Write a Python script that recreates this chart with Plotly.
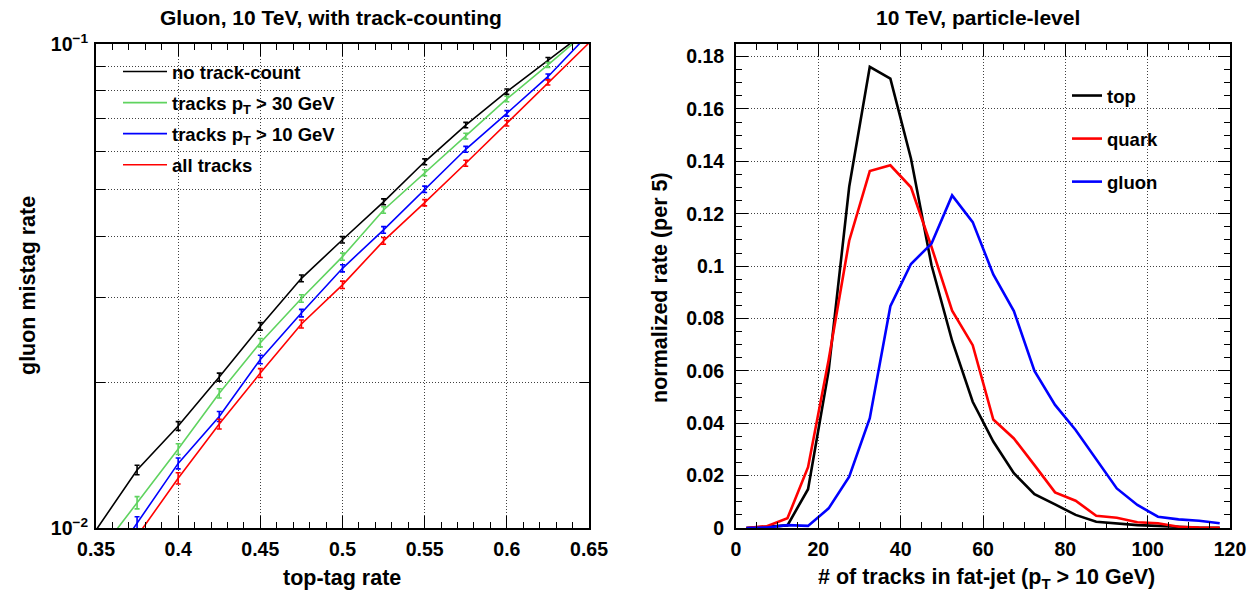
import plotly.graph_objects as go

# ---------------- Left panel data: gluon mistag vs top-tag rate ----------------
tag_rate = [0.35, 0.375, 0.4, 0.425, 0.45, 0.475, 0.5, 0.525, 0.55, 0.575, 0.6, 0.625, 0.65]

mistag_none = [0.0099, 0.01318, 0.01625, 0.0205, 0.0261, 0.0328, 0.0394, 0.0472, 0.0571, 0.0680, 0.0797, 0.0927, 0.1073]
err_none = [None, 0.0003, 0.00034, 0.00039, 0.00047, 0.00052, 0.00059, 0.00066, 0.0008, 0.00088, 0.001, 0.0011, None]

mistag_pt30 = [0.00873, 0.01128, 0.01456, 0.01898, 0.02415, 0.0298, 0.03636, 0.0454, 0.0542, 0.0645, 0.0770, 0.0905, 0.107]
err_pt30 = [None, 0.00033, 0.00037, 0.00042, 0.00048, 0.00054, 0.00062, 0.0007, 0.00078, 0.00088, 0.001, 0.0011, None]

mistag_pt10 = [0.0077, 0.01025, 0.0136, 0.0170, 0.0223, 0.0278, 0.0344, 0.0413, 0.0501, 0.0606, 0.0719, 0.0856, 0.105]
err_pt10 = [None, 0.0003, 0.00035, 0.0004, 0.00045, 0.0005, 0.00058, 0.00065, 0.00075, 0.00085, 0.00095, 0.0011, None]

mistag_all = [0.0073, 0.0096, 0.01267, 0.0164, 0.0209, 0.0264, 0.0318, 0.0392, 0.0470, 0.0567, 0.0686, 0.0833, 0.1005]
err_all = [None, 0.00028, 0.00034, 0.00038, 0.00044, 0.0005, 0.00056, 0.00063, 0.0007, 0.0008, 0.0009, 0.001, None]

left_names = ["no track-count", "tracks p<sub>T</sub> > 30 GeV", "tracks p<sub>T</sub> > 10 GeV", "all tracks"]
left_colors = ["#000000", "#5fd35f", "#0000ff", "#ff0000"]

# ---------------- Right panel data: track multiplicity ----------------
n_tracks = [2.5, 7.5, 12.5, 17.5, 22.5, 27.5, 32.5, 37.5, 42.5, 47.5, 52.5, 57.5,
            62.5, 67.5, 72.5, 77.5, 82.5, 87.5, 92.5, 97.5, 102.5, 107.5, 112.5, 117.5]

rate_top = [0.0, 0.0005, 0.001, 0.0148, 0.060, 0.1303, 0.1761, 0.1716, 0.1411, 0.1003, 0.0715, 0.0482,
            0.033, 0.0209, 0.0129, 0.0090, 0.0050, 0.0024, 0.0018, 0.0011, 0.0008, 0.0004, 0.0001, 0.0001]
rate_quark = [0.0, 0.0007, 0.0037, 0.0232, 0.0641, 0.1097, 0.1363, 0.1385, 0.1301, 0.1073, 0.0830, 0.0698,
              0.0414, 0.0342, 0.024, 0.0136, 0.0104, 0.0047, 0.0039, 0.0022, 0.0018, 0.0005, 0.0002, 0.0001]
rate_gluon = [0.0, 0.0002, 0.0011, 0.0008, 0.0075, 0.0196, 0.0419, 0.0847, 0.1008, 0.1086, 0.1270, 0.1168,
              0.0968, 0.0828, 0.0600, 0.0470, 0.0374, 0.0263, 0.0151, 0.0088, 0.0043, 0.0033, 0.0028, 0.0018]

right_names = ["top", "quark", "gluon"]
right_colors = ["#000000", "#ff0000", "#0000ff"]

FONT = "Liberation Sans, Arial, Helvetica, sans-serif"
W, H = 1253, 591

fig = go.Figure()

left_series = [(mistag_none, err_none), (mistag_pt30, err_pt30), (mistag_pt10, err_pt10), (mistag_all, err_all)]
for i, ((yv, ev), name, col) in enumerate(zip(left_series, left_names, left_colors)):
    fig.add_trace(go.Scatter(
        x=tag_rate, y=yv, mode="lines", name=name,
        line=dict(color=col, width=1.6),
        error_y=dict(type="data", array=ev, visible=True, color=col, thickness=1.6, width=2.5),
        xaxis="x", yaxis="y", legend="legend", legendgroup="L%d" % i,
    ))

for i, (yv, name, col) in enumerate(zip([rate_top, rate_quark, rate_gluon], right_names, right_colors)):
    fig.add_trace(go.Scatter(
        x=n_tracks, y=yv, mode="lines", name=name,
        line=dict(color=col, width=2.6),
        xaxis="x2", yaxis="y2", legend="legend2", legendgroup="R%d" % i,
    ))

grid = dict(showgrid=True, gridcolor="#404040", gridwidth=1, griddash="1px,2px", zeroline=False,
            showline=True, linecolor="black", linewidth=2, mirror="ticks", automargin=False,
            ticks="inside", tickcolor="black", tickwidth=1)
tickfont = dict(family=FONT, size=19.5, color="black", weight="bold")
titlefont = dict(family=FONT, size=21, color="black", weight="bold")
axtitlefont = dict(family=FONT, size=21.5, color="black", weight="bold")

dl = [96 / W, 589 / W]
dr = [736 / W, 1230 / W]
dy = [63 / H, 547 / H]

log_vals = [0.01, 0.02, 0.03, 0.04, 0.05, 0.06, 0.07, 0.08, 0.09, 0.1]
log_text = ["10<sup>\u22122</sup>", "", "", "", "", "", "", "", "", "10<sup>\u22121</sup>"]


def legend_box(x0, y0, x1, y1):
    # white legend background (as in the ROOT legend), drawn over the grid but under the curves
    return dict(type="rect", xref="paper", yref="paper", layer="between",
                x0=x0 / W, x1=x1 / W, y0=1 - y1 / H, y1=1 - y0 / H,
                fillcolor="white", line=dict(width=0))


fig.update_layout(
    width=W, height=H,
    margin=dict(l=0, r=0, t=0, b=0, autoexpand=False),
    paper_bgcolor="white", plot_bgcolor="white",
    font=dict(family=FONT, size=18, color="black", weight="bold"),
    xaxis=dict(domain=dl, range=[0.35, 0.65], tick0=0.35, dtick=0.05, ticklen=12,
               minor=dict(dtick=0.01, tick0=0.35, ticks="inside", ticklen=6, tickcolor="black", showgrid=False),
               tickfont=tickfont, ticklabelstandoff=3, anchor="y", **grid),
    yaxis=dict(domain=dy, type="log", range=[-2, -1], tickmode="array", tickvals=log_vals, ticktext=log_text,
               ticklen=9, tickfont=tickfont, ticklabelstandoff=2, anchor="x", **grid),
    xaxis2=dict(domain=dr, range=[0, 120], tick0=0, dtick=20, ticklen=12,
                minor=dict(dtick=5, tick0=0, ticks="inside", ticklen=6, tickcolor="black", showgrid=False),
                tickfont=tickfont, ticklabelstandoff=3, anchor="y2", **grid),
    yaxis2=dict(domain=dy, range=[0, 0.1848], tick0=0, dtick=0.02, ticklen=12,
                minor=dict(dtick=0.005, tick0=0, ticks="inside", ticklen=6, tickcolor="black", showgrid=False),
                tickfont=tickfont, ticklabelstandoff=6, anchor="x2", **grid),
    legend=dict(x=118 / W, y=1 - 53 / H, xanchor="left", yanchor="top", bgcolor="rgba(0,0,0,0)",
                font=dict(family=FONT, size=18.5, color="black", weight="bold"),
                tracegroupgap=4, itemwidth=44),
    legend2=dict(x=1067 / W, y=1 - 77 / H, xanchor="left", yanchor="top", bgcolor="rgba(0,0,0,0)",
                 font=dict(family=FONT, size=18.5, color="black", weight="bold"),
                 tracegroupgap=16, itemwidth=30),
    shapes=[legend_box(115, 50, 363, 182), legend_box(1067, 70, 1199, 200)],
    annotations=[
        dict(text="Gluon, 10 TeV, with track-counting", x=331 / W, y=1 - 17 / H,
             xref="paper", yref="paper", showarrow=False, font=titlefont, xanchor="center", yanchor="middle"),
        dict(text="10 TeV, particle-level", x=978 / W, y=1 - 17 / H,
             xref="paper", yref="paper", showarrow=False, font=titlefont, xanchor="center", yanchor="middle"),
        dict(text="top-tag rate", x=342 / W, y=1 - 578 / H,
             xref="paper", yref="paper", showarrow=False, font=axtitlefont, xanchor="center", yanchor="middle"),
        dict(text="# of tracks in fat-jet (p<sub>T</sub> > 10 GeV)", x=986 / W, y=1 - 578 / H,
             xref="paper", yref="paper", showarrow=False, font=axtitlefont, xanchor="center", yanchor="middle"),
        dict(text="gluon mistag rate", x=28 / W, y=1 - 286 / H, textangle=-90,
             xref="paper", yref="paper", showarrow=False, font=axtitlefont, xanchor="center", yanchor="middle"),
        dict(text="normalized rate (per 5)", x=660 / W, y=1 - 288 / H, textangle=-90,
             xref="paper", yref="paper", showarrow=False, font=axtitlefont, xanchor="center", yanchor="middle"),
    ],
)

fig.write_html(
    "out.html",
    config={"displayModeBar": False},
    post_script="document.documentElement.style.margin='0';document.body.style.margin='0';"
                "document.body.style.padding='0';document.body.style.overflow='hidden';",
)
